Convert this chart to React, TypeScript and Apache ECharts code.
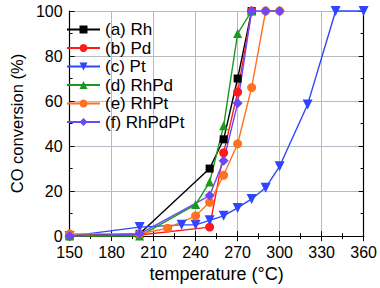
import React, { useEffect, useRef } from "react";
import * as echarts from "echarts";

const xTicks = [150, 180, 210, 240, 270, 300, 330, 360];
const yTicks = [0, 20, 40, 60, 80, 100];

const seriesNames = ["(a) Rh", "(b) Pd", "(c) Pt", "(d) RhPd", "(e) RhPt", "(f) RhPdPt"];

const tempRh = [150, 200, 250, 260, 270, 280];
const convRh = [0.3, 1, 30, 43, 70, 100];

const tempPd = [150, 200, 250, 260, 270, 280];
const convPd = [0, 0.5, 4, 37, 64, 100];

const tempPt = [150, 200, 230, 240, 250, 260, 270, 280, 290, 300, 320, 340, 360];
const convPt = [0, 4, 5, 5, 7, 9, 12.5, 16.5, 21.5, 31, 58.5, 100, 100];

const tempRhPd = [150, 200, 240, 250, 260, 270, 280];
const convRhPd = [0, 0, 14, 24, 49, 90, 100];

const tempRhPt = [150, 200, 220, 240, 250, 260, 270, 280, 290, 300];
const convRhPt = [1, 1, 3.5, 9, 15, 27, 41, 66, 100, 100];

const tempRhPdPt = [150, 200, 250, 260, 270, 280, 290, 300];
const convRhPdPt = [0, 1, 18, 33.5, 59, 100, 100, 100];

const colors = ["#000000", "#ff1a1a", "#2f45ff", "#1a9a1a", "#ff7020", "#6a48f5"];
const symbols = [
  "rect",
  "circle",
  "path://M0,0 L10,0 L5,9 Z",
  "triangle",
  "circle",
  "diamond",
];
const symbolSizes = [8, 9, 10, 9, 9, 10];

const zip = (xs: number[], ys: number[]) => xs.map((x, i) => [x, ys[i]]);

const allData = [
  zip(tempRh, convRh),
  zip(tempPd, convPd),
  zip(tempPt, convPt),
  zip(tempRhPd, convRhPd),
  zip(tempRhPt, convRhPt),
  zip(tempRhPdPt, convRhPdPt),
];

const FONT = "Liberation Sans, Arial, sans-serif";

export default function App() {
  const ref = useRef<HTMLDivElement>(null);
  useEffect(() => {
    if (!ref.current) return;
    const chart = echarts.init(ref.current, undefined, { renderer: "svg" });
    const axisCommon = {
      axisLine: { show: true, lineStyle: { color: "#000", width: 1.2 } },
      axisTick: { show: true, inside: true, length: 5, lineStyle: { color: "#000", width: 1 } },
      minorTick: { show: true, splitNumber: 2, length: 3, lineStyle: { color: "#000", width: 1 } },
    };
    chart.setOption({
      animation: false,
      backgroundColor: "#fff",
      grid: { left: 55, right: 15, top: 11, bottom: 46, containLabel: false },
      legend: {
        orient: "vertical",
        left: 61,
        top: 16,
        itemWidth: 33,
        itemHeight: 10,
        itemGap: 1.5,
        textStyle: { fontSize: 17, fontFamily: FONT, color: "#000", padding: [0, 0, 0, 0] },
        data: seriesNames,
      },
      xAxis: [
        {
          type: "value",
          min: xTicks[0],
          max: xTicks[xTicks.length - 1],
          interval: 30,
          ...axisCommon,
          axisLabel: { fontSize: 16, fontFamily: FONT, color: "#000", margin: 8 },
          splitLine: { show: true, lineStyle: { color: "#b4bac4", width: 1 } },
          name: "temperature (°C)",
          nameLocation: "middle",
          nameGap: 28,
          nameTextStyle: { fontSize: 18, fontFamily: FONT, color: "#000" },
        },
        {
          type: "value",
          position: "top",
          min: xTicks[0],
          max: xTicks[xTicks.length - 1],
          interval: 30,
          ...axisCommon,
          axisLabel: { show: false },
          splitLine: { show: false },
        },
      ],
      yAxis: [
        {
          type: "value",
          min: yTicks[0],
          max: yTicks[yTicks.length - 1],
          interval: 20,
          ...axisCommon,
          axisLabel: { fontSize: 16, fontFamily: FONT, color: "#000", margin: 7 },
          splitLine: { show: true, lineStyle: { color: "#b4bac4", width: 1 } },
          name: "CO conversion (%)",
          nameLocation: "middle",
          nameGap: 41,
          nameTextStyle: { fontSize: 16.5, fontFamily: FONT, color: "#000" },
        },
        {
          type: "value",
          position: "right",
          min: yTicks[0],
          max: yTicks[yTicks.length - 1],
          interval: 20,
          ...axisCommon,
          axisLabel: { show: false },
          splitLine: { show: false },
        },
      ],
      series: seriesNames.map((name, i) => ({
        name,
        type: "line",
        data: allData[i],
        symbol: symbols[i],
        symbolSize: symbolSizes[i],
        showAllSymbol: true,
        lineStyle: { color: colors[i], width: 1.4 },
        itemStyle: { color: colors[i] },
        emphasis: { disabled: true },
        clip: false,
      })),
    });
    return () => chart.dispose();
  }, []);
  return <div ref={ref} style={{ width: 380, height: 288, position: "absolute", left: 0, top: 0 }} />;
}
